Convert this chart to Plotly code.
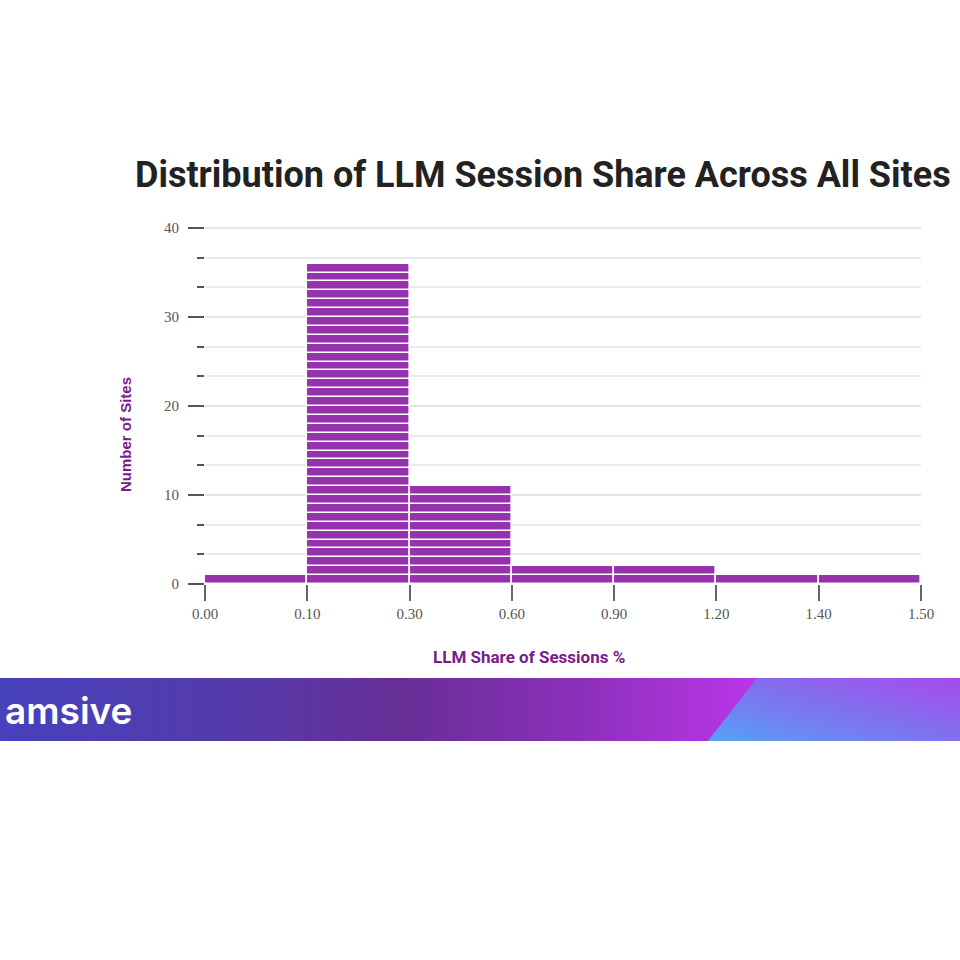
import base64
import plotly.graph_objects as go

# ---- data ----
bin_edge_labels = ["0.00", "0.10", "0.30", "0.60", "0.90", "1.20", "1.40", "1.50"]
site_counts = [1, 36, 11, 2, 2, 1, 1]
y_major_ticks = [0, 10, 20, 30, 40]

title_text = "Distribution of LLM Session Share Across All Sites"
x_title = "LLM Share of Sessions %"
y_title = "Number of Sites"
logo_text = "amsive"

BAR = "#9633AC"
PURPLE_TXT = "#7A1A8C"

# plot area in pixels (top extended slightly so the 40 gridline shows)
L, R, T, B = 205, 921, 224, 584
PW, PH = R - L, B - T
Y_TOP = PH / 8.9


def px(x):
    return (x - L) / PW


def py(y):
    return (B - y) / PH


# one stripe per site, stacked via base
xs, bases, ys = [], [], []
for i, c in enumerate(site_counts):
    for k in range(c):
        xs.append(i)
        bases.append(k)
        ys.append(1)

fig = go.Figure()
fig.add_trace(go.Bar(
    x=xs, y=ys, base=bases,
    marker=dict(color=BAR, line=dict(color="white", width=1.6), cornerradius=2),
    width=1.0,
    hoverinfo="skip",
))

edge_pos = [i - 0.5 for i in range(len(bin_edge_labels))]

fig.update_layout(
    width=960, height=960,
    margin=dict(l=L, r=960 - R, t=T, b=960 - B),
    paper_bgcolor="white", plot_bgcolor="white",
    showlegend=False, bargap=0, barmode="overlay",
    xaxis=dict(
        range=[-0.5, len(site_counts) - 0.5],
        tickmode="array", tickvals=edge_pos, ticktext=bin_edge_labels,
        ticks="outside", ticklen=16, tickwidth=2, tickcolor="#666",
        showgrid=False, zeroline=False, showline=False,
        tickfont=dict(family="Liberation Serif, serif", size=15, color="#555"),
        fixedrange=True,
    ),
    yaxis=dict(
        range=[0, Y_TOP],
        tickmode="array", tickvals=y_major_ticks,
        ticks="outside", ticklen=16, tickwidth=2, tickcolor="#555",
        ticklabelstandoff=6,
        showgrid=True, gridcolor="#e4e4e4", gridwidth=2,
        zeroline=False, showline=False,
        tickfont=dict(family="Liberation Serif, serif", size=15, color="#555"),
        minor=dict(dtick=10 / 3, tick0=0, ticks="outside", ticklen=7, tickwidth=2,
                   tickcolor="#555", showgrid=True, gridcolor="#ebebeb", gridwidth=2),
        fixedrange=True,
    ),
)

# banner gradient (decoration)
svg = (
    "<svg xmlns='http://www.w3.org/2000/svg' width='960' height='63' viewBox='0 0 960 63' preserveAspectRatio='none'>"
    "<defs>"
    "<linearGradient id='a' x1='0' y1='0' x2='1' y2='0'>"
    "<stop offset='0' stop-color='#4741BC'/>"
    "<stop offset='0.25' stop-color='#553AAA'/>"
    "<stop offset='0.42' stop-color='#682E96'/>"
    "<stop offset='0.6' stop-color='#8A30BA'/>"
    "<stop offset='0.8' stop-color='#BE36EA'/>"
    "<stop offset='1' stop-color='#C03AEE'/>"
    "</linearGradient>"
    "<linearGradient id='b' x1='0' y1='1' x2='1' y2='0'>"
    "<stop offset='0' stop-color='#55A2F4'/>"
    "<stop offset='0.45' stop-color='#7B76F0'/>"
    "<stop offset='1' stop-color='#A84AEA'/>"
    "</linearGradient>"
    "</defs>"
    "<rect width='960' height='63' fill='url(#a)'/>"
    "<polygon points='757,0 960,0 960,63 708,63' fill='url(#b)'/>"
    "</svg>"
)
src = "data:image/svg+xml;base64," + base64.b64encode(svg.encode()).decode()
fig.add_layout_image(dict(
    source=src, xref="paper", yref="paper",
    x=px(0), y=py(678), sizex=960 / PW, sizey=63 / PH,
    xanchor="left", yanchor="top", sizing="stretch", layer="below",
))

fig.add_annotation(
    text="<b>" + title_text + "</b>", xref="paper", yref="paper",
    x=px(543), y=py(175), xanchor="center", yanchor="middle", showarrow=False,
    font=dict(family="Liberation Sans Narrow, Roboto, sans-serif", size=36, color="#222"),
)
fig.add_annotation(
    text="<b>" + y_title + "</b>", xref="paper", yref="paper",
    x=px(125), y=py(435), xanchor="center", yanchor="middle", showarrow=False,
    textangle=-90,
    font=dict(family="Liberation Sans, Arial, sans-serif", size=15, color=PURPLE_TXT),
)
fig.add_annotation(
    text="<b>" + x_title + "</b>", xref="paper", yref="paper",
    x=px(529), y=py(657), xanchor="center", yanchor="middle", showarrow=False,
    font=dict(family="Roboto, sans-serif", size=17, color=PURPLE_TXT),
)
fig.add_annotation(
    text=logo_text, xref="paper", yref="paper",
    x=px(3), y=py(710), xanchor="left", yanchor="middle", showarrow=False,
    font=dict(family="Inter, sans-serif", size=37, color="white", weight=600),
)

fig.write_html("out.html")
